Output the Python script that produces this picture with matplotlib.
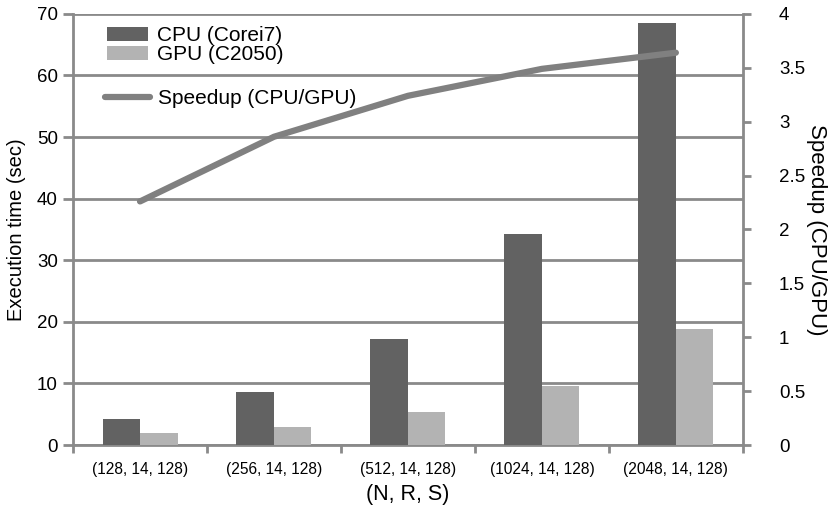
import matplotlib.pyplot as plt
import matplotlib.transforms as mtransforms
import numpy as np

# data
categories = ["(128, 14, 128)", "(256, 14, 128)", "(512, 14, 128)",
              "(1024, 14, 128)", "(2048, 14, 128)"]
cpu_time = [4.2, 8.6, 17.2, 34.3, 68.6]
gpu_time = [1.9, 2.9, 5.3, 9.6, 18.8]
speedup = [2.26, 2.86, 3.24, 3.49, 3.64]

plt.rcParams['font.family'] = ['Liberation Sans', 'DejaVu Sans']
axis_gray = '#8a8a8a'

fig = plt.figure(figsize=(8.3, 5.09), dpi=100)
ax = fig.add_axes([0.088, 0.1257, 0.807, 0.847])

x = np.arange(len(categories))
w = 0.28
cpu_bars = ax.bar(x - w / 2, cpu_time, w, color='#626262', label='CPU (Corei7)', zorder=3)
gpu_bars = ax.bar(x + w / 2, gpu_time, w, color='#b3b3b3', label='GPU (C2050)', zorder=3)

ax.set_xlim(-0.5, len(categories) - 0.5)
ax.set_ylim(0, 70)
ax.set_yticks(range(0, 71, 10))
ax.yaxis.grid(True, color=axis_gray, lw=2)
ax.set_axisbelow(True)

ax.set_xticks(x)
ax.set_xticklabels(categories, fontsize=11.2)
# labels sit a little right of the category centre in the original
shift = mtransforms.ScaledTranslation(5 / 100, 0, fig.dpi_scale_trans)
for lbl in ax.get_xticklabels():
    lbl.set_transform(lbl.get_transform() + shift)
ax.set_xticks(np.arange(-0.5, len(categories)), minor=True)
ax.tick_params(axis='x', which='major', length=0, pad=12)
ax.tick_params(axis='x', which='minor', length=6, width=2, color=axis_gray, direction='out')
ax.tick_params(axis='y', length=7, width=2, color=axis_gray, labelsize=13.5, pad=4)

for side in ['top', 'right']:
    ax.spines[side].set_visible(False)
for side in ['left', 'bottom']:
    ax.spines[side].set_color(axis_gray)
    ax.spines[side].set_linewidth(2)

ax.set_ylabel("Execution time (sec)", fontsize=14.5, labelpad=8)
ax.set_xlabel("(N, R, S)", fontsize=15.5, labelpad=5)

ax2 = ax.twinx()
line, = ax2.plot(x, speedup, color='#808080', lw=4.5, solid_capstyle='round',
                 label='Speedup (CPU/GPU)')
ax2.set_ylim(0, 4)
ax2.set_yticks(np.arange(0, 4.01, 0.5))
ax2.set_yticklabels(['0', '0.5', '1', '1.5', '2', '2.5', '3', '3.5', '4'])
ax2.tick_params(axis='y', length=6, width=2, color=axis_gray, labelsize=13.5, pad=20)
for side in ['top', 'left', 'bottom']:
    ax2.spines[side].set_visible(False)
ax2.spines['right'].set_color(axis_gray)
ax2.spines['right'].set_linewidth(2)
ax2.set_ylabel("Speedup (CPU/GPU)", fontsize=16, rotation=-90, labelpad=16)

leg1 = ax2.legend(handles=[cpu_bars, gpu_bars], loc='upper left',
                  bbox_to_anchor=(0.051, 0.971), frameon=False, fontsize=15,
                  borderpad=0, borderaxespad=0, labelspacing=0.0,
                  handlelength=1.97, handleheight=0.6, handletextpad=0.43)
ax2.add_artist(leg1)
ax2.legend(handles=[line], loc='upper left', bbox_to_anchor=(0.047, 0.826),
           frameon=False, fontsize=15, borderpad=0, borderaxespad=0,
           handlelength=2.2, handletextpad=0.35)

fig.savefig('out.png', dpi=100)
